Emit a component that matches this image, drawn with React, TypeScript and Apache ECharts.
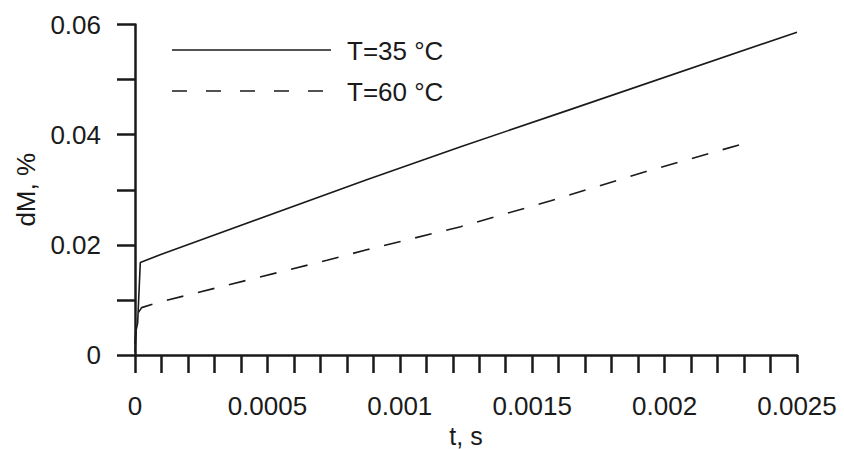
import React, { useEffect, useRef } from "react";
import * as echarts from "echarts";

const seriesNames = ["T=35 °C", "T=60 °C"];

const t35 = [0, 0.000004, 0.00001, 0.00002, 0.0001, 0.000875, 0.00123, 0.00164, 0.0025];
const dm35 = [0.0005, 0.0045, 0.0058, 0.0168, 0.0183, 0.0318, 0.0378, 0.0445, 0.0586];

const t60 = [0, 0.000005, 0.00001, 0.000025, 0.0001, 0.000725, 0.000875, 0.00123, 0.00157, 0.00193, 0.0023];
const dm60 = [0.002, 0.0062, 0.0075, 0.0086, 0.0097, 0.0172, 0.0191, 0.0233, 0.028, 0.0333, 0.0384];

const xLabels = ["0", "0.0005", "0.001", "0.0015", "0.002", "0.0025"];
const yLabels = ["0", "0.02", "0.04", "0.06"];

const INK = "#1a1a1a";
const FONT = "Liberation Sans, Arial, sans-serif";
const FS = 26;

export default function App() {
  const ref = useRef<HTMLDivElement>(null);
  useEffect(() => {
    if (!ref.current) return;
    const chart = echarts.init(ref.current, undefined, { renderer: "svg" });
    const zip = (a: number[], b: number[]) => a.map((v, i) => [v, b[i]]);
    chart.setOption({
      animation: false,
      backgroundColor: "#ffffff",
      grid: { left: 135, right: 47, top: 24.5, bottom: 94, containLabel: false, outerBoundsMode: "none" },
      xAxis: {
        type: "value",
        min: 0,
        max: 0.0025,
        interval: 0.0001,
        name: "t, s",
        nameLocation: "middle",
        nameGap: 64,
        nameTextStyle: { fontFamily: FONT, fontSize: 25, color: INK },
        axisLine: { show: true, onZero: false, lineStyle: { color: INK, width: 2.5 } },
        axisTick: { show: true, inside: false, length: 18, lineStyle: { color: INK, width: 2.5 } },
        splitLine: { show: false },
        axisLabel: {
          margin: 38,
          fontFamily: FONT,
          fontSize: FS,
          color: INK,
          formatter: (v: number) => {
            const k = Math.round(v / 0.0005);
            if (Math.abs(v - k * 0.0005) > 1e-9) return "";
            return xLabels[k] ?? "";
          },
        },
      },
      yAxis: {
        type: "value",
        min: 0,
        max: 0.06,
        interval: 0.01,
        name: "dM, %",
        nameLocation: "middle",
        nameGap: 92,
        nameRotate: 90,
        nameTextStyle: { fontFamily: FONT, fontSize: FS, color: INK },
        axisLine: { show: true, onZero: false, lineStyle: { color: INK, width: 2.5 } },
        axisTick: { show: true, inside: false, length: 18, lineStyle: { color: INK, width: 2.5 } },
        splitLine: { show: false },
        axisLabel: {
          margin: 34,
          fontFamily: FONT,
          fontSize: FS,
          color: INK,
          formatter: (v: number) => {
            const k = Math.round(v / 0.02);
            if (Math.abs(v - k * 0.02) > 1e-9) return "";
            return yLabels[k] ?? "";
          },
        },
      },
      series: [
        {
          name: seriesNames[0],
          type: "line",
          data: zip(t35, dm35),
          showSymbol: false,
          lineStyle: { color: INK, width: 1.6, type: "solid" },
        },
        {
          name: seriesNames[1],
          type: "line",
          data: zip(t60, dm60),
          showSymbol: false,
          lineStyle: { color: INK, width: 1.6, type: [17, 15] },
        },
      ],
      graphic: [
        { type: "line", shape: { x1: 172, y1: 50, x2: 331, y2: 50 }, style: { stroke: INK, lineWidth: 1.6 } },
        { type: "text", x: 347, y: 51, style: { text: seriesNames[0], font: `${FS}px ${FONT}`, fill: INK, verticalAlign: "middle" } },
        { type: "line", shape: { x1: 172, y1: 91, x2: 331, y2: 91 }, style: { stroke: INK, lineWidth: 1.6, lineDash: [15, 19] } },
        { type: "text", x: 347, y: 92, style: { text: seriesNames[1], font: `${FS}px ${FONT}`, fill: INK, verticalAlign: "middle" } },
      ],
    });
    return () => chart.dispose();
  }, []);
  return <div ref={ref} style={{ width: 844, height: 449, position: "absolute", left: 0, top: 0 }} />;
}
